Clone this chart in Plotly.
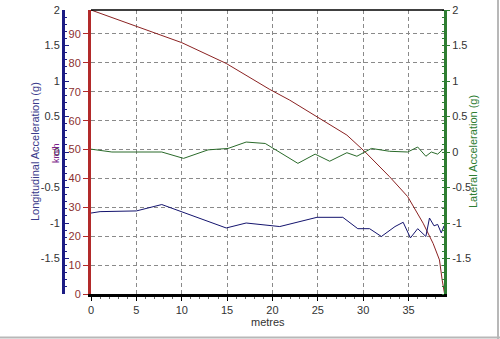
import plotly.graph_objects as go

# ---- data ----
dist_speed = [0, 5.0, 10.0, 14.9, 19.7, 21.9, 25.0, 28.2, 30.2, 32.9, 34.9, 36.6, 37.7, 38.4, 38.7, 38.95]
speed_kmh = [98.3, 92.7, 87.0, 79.8, 70.8, 67.1, 61.1, 55.0, 49.2, 40.6, 33.7, 24.5, 17.5, 11.8, 4.8, 0.3]

dist_long = [0, 1.0, 5.0, 7.8, 14.9, 17.1, 20.8, 23.0, 24.9, 27.75, 29.4, 30.7, 32.0, 33.5, 34.4,
             35.2, 36.0, 36.9, 37.3, 37.8, 38.2, 38.6, 38.9]
long_g = [-0.86, -0.84, -0.83, -0.74, -1.07, -1.0, -1.05, -0.98, -0.92, -0.92, -1.08, -1.08, -1.19,
          -1.05, -0.99, -1.21, -1.08, -1.19, -0.93, -1.04, -1.02, -1.14, -1.04]

dist_lat = [0, 2.3, 7.8, 10.2, 12.9, 15.1, 17.1, 19.2, 22.8, 24.7, 26.3, 28.2, 29.3, 30.2, 30.9,
            32.9, 34.9, 36.0, 36.9, 37.5, 38.2, 38.8]
lat_g = [0.04, 0.0, 0.0, -0.09, 0.03, 0.05, 0.14, 0.12, -0.16, -0.03, -0.13, -0.01, -0.06, 0.0, 0.05,
         0.01, 0.0, 0.07, -0.06, 0.0, -0.03, 0.04]

x_ticks = [0, 5, 10, 15, 20, 25, 30, 35]
kmh_ticks = [0, 10, 20, 30, 40, 50, 60, 70, 80, 90]
g_ticks = [-1.5, -1, -0.5, 0, 0.5, 1, 1.5, 2]
g_ticklabels = ["-1.5", "-1", "-0.5", "0", "0.5", "1", "1.5", "2"]

# ---- style ----
W, H = 500, 339
FONT = "Liberation Sans, Arial, sans-serif"
RED = "#b22a2a"
RED_LINE = "#8b2222"
BLUE = "#1c1c84"
BLUE_LINE = "#14146e"
GREEN = "#2e7d32"
GREEN_LINE = "#2a6a2a"
GRID = "#8a8a8a"
TXT = "#333333"

x0_px, x1_px = 91, 444
y0_px, y1_px = 10, 294

fig = go.Figure()
fig.add_trace(go.Scatter(x=dist_speed, y=speed_kmh, mode="lines", line=dict(color=RED_LINE, width=1),
                         yaxis="y", hoverinfo="skip"))
fig.add_trace(go.Scatter(x=dist_long, y=long_g, mode="lines", line=dict(color=BLUE_LINE, width=1),
                         yaxis="y2", hoverinfo="skip"))
fig.add_trace(go.Scatter(x=dist_lat, y=lat_g, mode="lines", line=dict(color=GREEN_LINE, width=1),
                         yaxis="y3", hoverinfo="skip"))

ydom = [(H - y1_px) / H, (H - y0_px) / H]

fig.update_layout(
    width=W, height=H,
    margin=dict(l=0, r=0, t=0, b=0, autoexpand=False),
    paper_bgcolor="white", plot_bgcolor="white",
    showlegend=False,
    font=dict(family=FONT, size=11, color=TXT),
    xaxis=dict(
        domain=[x0_px / W, x1_px / W], range=[0, 38.9],
        tickvals=x_ticks, ticktext=[str(v) for v in x_ticks],
        showgrid=True, gridcolor=GRID, griddash="4px,3px", gridwidth=1,
        showline=True, linecolor="black", linewidth=3,
        ticks="outside", ticklen=4, tickcolor="black",
        minor=dict(dtick=1, ticks="outside", ticklen=2, tickcolor="#666", showgrid=False),
        zeroline=False, automargin=False, anchor="y",
        tickfont=dict(size=11, color=TXT),
    ),
    yaxis=dict(
        domain=ydom, range=[0, 98.3],
        tickvals=kmh_ticks, ticktext=[str(v) for v in kmh_ticks],
        showgrid=True, gridcolor=GRID, griddash="4px,3px", gridwidth=1,
        showline=True, linecolor=RED, linewidth=3,
        ticks="outside", ticklen=5, tickcolor=RED,
        zeroline=False, automargin=False, anchor="x", side="left",
        tickfont=dict(size=11, color="#8b3030"),
    ),
    yaxis2=dict(
        overlaying="y", anchor="free", position=63 / W, side="left",
        range=[-2, 2], tickvals=g_ticks, ticktext=g_ticklabels,
        showgrid=False, zeroline=False,
        showline=True, linecolor=BLUE, linewidth=3,
        ticks="inside", ticklen=4, tickcolor=BLUE,
        minor=dict(dtick=0.1, ticks="inside", ticklen=2, tickcolor=BLUE, showgrid=False),
        automargin=False,
        tickfont=dict(size=11, color=TXT),
    ),
    yaxis3=dict(
        overlaying="y", anchor="x", side="right",
        range=[-2, 2], tickvals=g_ticks, ticktext=g_ticklabels,
        showgrid=False, zeroline=False,
        showline=True, linecolor=GREEN, linewidth=3,
        ticks="outside", ticklen=3, tickcolor=GREEN,
        minor=dict(dtick=0.1, ticks="inside", ticklen=2, tickcolor=GREEN, showgrid=False),
        automargin=False,
        tickfont=dict(size=11, color=TXT),
    ),
    annotations=[
        dict(text="Longitudinal Acceleration (g)", x=35 / W, y=(H - 152) / H, xref="paper", yref="paper",
             textangle=-90, showarrow=False, font=dict(size=11, color="#3a3a8a"),
             xanchor="center", yanchor="middle"),
        dict(text="km/h", x=56 / W, y=(H - 153) / H, xref="paper", yref="paper",
             textangle=-90, showarrow=False, font=dict(size=9, color="#7a1f8a"),
             xanchor="center", yanchor="middle"),
        dict(text="Lateral Acceleration (g)", x=473 / W, y=(H - 152) / H, xref="paper", yref="paper",
             textangle=-90, showarrow=False, font=dict(size=11, color=GREEN),
             xanchor="center", yanchor="middle"),
        dict(text="metres", x=268 / W, y=(H - 322) / H, xref="paper", yref="paper",
             showarrow=False, font=dict(size=11, color=TXT),
             xanchor="center", yanchor="middle"),
    ],
    shapes=[
        dict(type="line", xref="x domain", yref="y domain", x0=0, x1=1, y0=1, y1=1,
             line=dict(color="black", width=1.5)),
        dict(type="line", xref="paper", yref="paper", x0=0, x1=1, y0=1.5 / H, y1=1.5 / H,
             line=dict(color="#b8b8b8", width=2)),
        dict(type="line", xref="paper", yref="paper", x0=1 - 2 / W, x1=1 - 2 / W, y0=0, y1=1,
             line=dict(color="#b8b8b8", width=2)),
    ],
)

fig.write_html("out.html",
               config={"displayModeBar": False},
               post_script="document.body.style.margin='0';document.body.style.padding='0';")
